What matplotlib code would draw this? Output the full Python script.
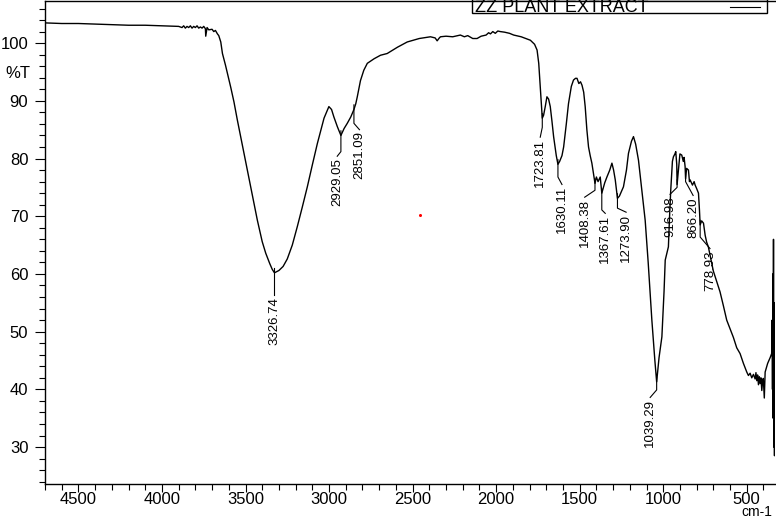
import numpy as np
import matplotlib
matplotlib.use('Agg')
import matplotlib.pyplot as plt
from matplotlib.patches import Rectangle

# spectrum (wavenumber cm-1, %T)
wavenumber = [4694, 4600, 4500, 4400, 4300, 4200, 4100, 4000, 3950, 3900,
              3880, 3870, 3860, 3850, 3840, 3830, 3820, 3810, 3800, 3790,
              3780, 3770, 3760, 3750, 3740, 3738, 3730, 3720, 3700, 3690,
              3680, 3668, 3660, 3648, 3638, 3620, 3606, 3588, 3569, 3549, 3509,
              3469, 3429, 3400, 3379, 3355, 3340, 3326.74, 3300, 3275, 3250, 3220, 3190, 3160, 3130, 3100, 3070,
              3030, 3001, 2985, 2971, 2950, 2929.05, 2910, 2891, 2870, 2851.09,
              2840, 2831, 2812, 2800, 2792, 2771, 2730, 2692, 2652, 2590,
              2532, 2460, 2393, 2365, 2353, 2340, 2333, 2300, 2260, 2214,
              2190, 2170, 2140, 2114, 2090, 2060, 2045, 2034, 2020, 2005,
              1990, 1975, 1950, 1920, 1895, 1850, 1795, 1770, 1755, 1745,
              1736, 1728, 1723.81, 1716, 1706, 1696, 1686, 1676, 1666, 1656,
              1640, 1630.11, 1620, 1606, 1596, 1580, 1567, 1550, 1537, 1525,
              1516, 1505, 1495, 1486, 1476, 1467, 1457, 1447, 1437, 1427,
              1415, 1408.38, 1400, 1390, 1377, 1367.61, 1350, 1337, 1320, 1307,
              1297, 1287, 1273.90, 1262, 1238, 1220, 1208, 1190, 1178, 1165,
              1148, 1130, 1108, 1090, 1068, 1050, 1039.29, 1025, 1008, 995,
              988, 975, 969, 962, 955, 945, 939, 930, 925, 919,
              916.98, 909, 900, 889, 880, 875, 869, 866.20, 860, 849,
              843, 839, 825, 815, 809, 800, 789, 783, 778.93, 770,
              759, 749, 740, 730, 700, 670, 660, 640, 620, 600,
              580, 560, 540, 520, 500, 490, 480, 470, 460, 450,
              445, 440, 435, 430, 425, 420, 415, 410, 405, 401,
              395, 390, 381, 375, 360, 351, 348, 346, 344, 342,
              340, 338, 336, 334, 332, 331]
transmittance = [103.5, 103.4, 103.4, 103.3, 103.2, 103.1, 103.1, 103.0, 102.95, 102.9,
                 102.7, 103.0, 102.6, 102.9, 102.7, 103.0, 102.6, 102.9, 102.7, 103.0,
                 102.6, 102.8, 102.6, 102.9, 102.5, 101.2, 102.7, 102.3, 102.4, 102.0,
                 102.2, 101.6, 101.3, 100.2, 98.2, 96.2, 94.5, 92.3, 89.8, 86.7, 80.9,
                 75.1, 69.3, 65.6, 63.6, 61.8, 60.8, 60.2, 60.6, 61.3, 62.6, 65.0, 68.2, 71.6, 75.1, 78.9, 82.6,
                 87.0, 89.0, 88.5, 87.2, 85.5, 84.0, 85.2, 86.1, 87.2, 88.5,
                 89.5, 90.7, 93.5, 94.6, 95.3, 96.5, 97.3, 97.9, 98.2, 99.3,
                 100.2, 100.8, 101.1, 100.9, 100.4, 100.9, 101.1, 101.2, 101.1, 101.4,
                 101.1, 101.3, 100.8, 100.8, 101.2, 101.4, 101.8, 101.6, 102.0, 101.7,
                 102.1, 102.0, 101.9, 101.7, 101.4, 101.1, 100.5, 99.8, 98.8, 96.5,
                 92.4, 89.0, 87.0, 87.5, 89.0, 90.7, 90.3, 89.0, 86.5, 83.8,
                 80.5, 79.0, 79.5, 80.5, 82.0, 86.0, 89.5, 92.5, 93.6, 93.9,
                 93.9, 93.0, 93.3, 92.7, 91.5, 89.0, 85.0, 82.0, 80.5, 79.2,
                 77.0, 75.7, 76.8, 76.0, 76.8, 74.0, 75.8, 76.8, 78.0, 79.2,
                 78.0, 76.3, 73.1, 73.5, 75.1, 78.0, 80.9, 83.0, 83.8, 82.5,
                 79.7, 75.0, 69.3, 62.0, 52.0, 45.0, 41.3, 45.5, 49.1, 57.0,
                 62.4, 64.0, 64.7, 70.0, 74.5, 79.5, 80.3, 80.8, 81.2, 79.0,
                 75.5, 78.0, 80.8, 80.6, 79.5, 80.2, 78.6, 76.5, 78.3, 78.0,
                 76.0, 76.3, 75.4, 76.0, 75.4, 74.8, 74.0, 71.0, 68.5, 69.2,
                 68.8, 66.7, 65.5, 64.7, 60.5, 57.8, 56.9, 54.5, 52.0, 50.5,
                 49.0, 47.2, 46.2, 44.5, 43.0, 42.4, 42.8, 42.0, 42.6, 41.8,
                 42.9, 41.5, 42.5, 40.8, 42.2, 41.0, 42.0, 39.8, 41.5, 41.9,
                 38.5, 43.0, 43.9, 44.5, 45.5, 46.2, 52.0, 40.0, 60.0, 35.0,
                 66.0, 30.0, 55.0, 28.5, 48.0, 40.0]

# labelled peaks: name, wavenumber, %T at the peak
peak_labels = ['3326.74', '2929.05', '2851.09', '1723.81', '1630.11', '1408.38',
               '1367.61', '1273.90', '1039.29', '916.98', '866.20', '778.93']
peak_wn = [3326.74, 2929.05, 2851.09, 1723.81, 1630.11, 1408.38,
           1367.61, 1273.90, 1039.29, 916.98, 866.20, 778.93]
peak_t = [60.2, 84.0, 88.5, 87.0, 79.0, 75.7, 74.0, 73.1, 41.3, 75.5, 76.5, 68.5]

# leader layout: end of vertical drop, text x, text top
drop_t = [56.3, 81.2, 86.1, 85.4, 76.8, 74.5, 71.1, 71.4, 39.9, 75.0, 76.0, 66.4]
text_wn = [3326.74, 2951, 2818, 1736, 1606, 1470, 1347, 1222, 1078, 959, 821, 720]
text_t = [56.0, 80.1, 84.7, 83.4, 75.2, 73.0, 70.2, 70.4, 38.3, 73.5, 73.3, 64.1]

red_dot = (2453, 70.2)

fig = plt.figure(figsize=(7.76, 5.2), dpi=100)
ax = fig.add_axes([45/776, 36/520, 730/776, 483/520])

ax.plot(wavenumber, transmittance, color='black', linewidth=1.0)
ax.plot([red_dot[0]], [red_dot[1]], marker='o', ms=2.2, color='red', mec='none')

for lab, w, t, d, tw, tt in zip(peak_labels, peak_wn, peak_t, drop_t, text_wn, text_t):
    ax.plot([w, w, tw], [t + 0.8, d, tt + 0.3], color='black', linewidth=0.8)
    ax.text(tw, tt, lab, rotation=90, ha='center', va='top', fontsize=9.5,
            family=['Liberation Sans Narrow', 'Liberation Sans', 'DejaVu Sans'])

ax.set_xlim(4694, 331)
ax.set_ylim(23.6, 107.3)
ax.set_xticks(np.arange(500, 4501, 500))
ax.set_xticks(np.arange(400, 4701, 100), minor=True)
ax.set_yticks(np.arange(30, 101, 10))
ax.set_yticks(np.arange(24, 107, 2), minor=True)
ax.tick_params(which='major', length=7, width=0.8, labelsize=12, direction='out')
ax.tick_params(which='minor', length=4, width=0.8, direction='out')
ax.tick_params(axis='x', which='major', length=5.5, pad=0.5)
ax.tick_params(axis='y', pad=5)
for lbl in ax.get_xticklabels() + ax.get_yticklabels():
    lbl.set_family('Liberation Sans')
ax.spines['right'].set_visible(False)
for s in ['left', 'bottom', 'top']:
    ax.spines[s].set_linewidth(1.0)

fig.text(18/776, 1 - 73/520, '%T', ha='center', va='center', fontsize=12,
         family='Liberation Sans')
fig.text(757/776, 0.5/520, 'cm-1', ha='center', va='bottom', fontsize=10,
         family='Liberation Sans')

# legend box at the top right
fig.patches.append(Rectangle((472/776, 1 - 13.3/520), 295/776, 14/520,
                             transform=fig.transFigure, fill=False,
                             edgecolor='black', linewidth=1.0))
fig.text(475/776, 1 - 12/520, 'ZZ PLANT EXTRACT', ha='left', va='baseline',
         fontsize=13, family='Liberation Sans')
fig.lines.append(plt.Line2D([730/776, 760/776], [1 - 6.7/520, 1 - 6.7/520],
                            transform=fig.transFigure, color='black', linewidth=0.8))

fig.savefig('out.png', dpi=100)
